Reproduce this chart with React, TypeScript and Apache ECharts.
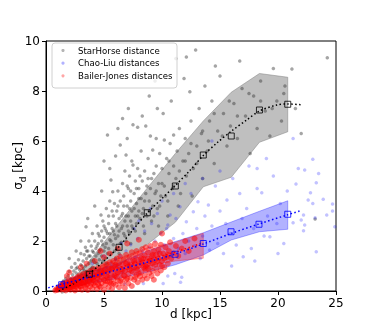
import React, { useEffect, useRef } from "react";
import * as echarts from "echarts";

// ---------- data ----------
const X_TICKS = [0, 5, 10, 15, 20, 25];
const Y_TICKS = [0, 2, 4, 6, 8, 10];
const LEGEND_LABELS = ["StarHorse distance", "Chao-Liu distances", "Bailer-Jones distances"];

// StarHorse scatter [d, sigma_d]
const SH_POINTS: [number, number][] = [
  [0.9,0.05],[1.0,0.12],[1.1,0.2],[1.2,0.08],[1.3,0.3],[1.4,0.15],[1.5,0.4],[1.5,0.22],[1.6,0.1],[1.7,0.5],[1.7,0.3],[1.8,0.18],[1.9,0.6],[1.9,0.38],[2.0,0.25],[2.0,0.78],
  [2.1,0.5],[2.2,0.35],[2.2,0.95],[2.3,0.65],[2.4,0.28],[2.4,0.8],[2.5,0.5],[2.5,1.1],[2.6,0.72],[2.7,0.4],[2.7,0.95],[2.8,1.25],[2.8,0.6],[2.9,0.85],[3.0,0.45],[3.0,1.05],[3.0,1.5],
  [3.1,0.7],[3.2,1.2],[3.2,0.9],[3.3,0.55],[3.3,1.45],[3.4,1.0],[3.4,1.75],[3.45,2.57],[3.5,0.78],[3.5,1.3],[3.6,1.6],[3.6,0.6],[3.7,1.1],[3.7,2.0],[3.8,0.85],[3.8,1.4],[3.9,1.8],[3.9,1.2],[4.0,0.95],[4.0,2.3],
  [4.1,1.55],[4.1,1.25],[4.2,2.0],[4.2,0.9],[4.3,1.7],[4.3,1.4],[4.4,2.6],[4.4,1.1],[4.5,1.9],[4.5,1.5],[4.6,2.2],[4.6,1.25],[4.7,1.65],[4.74,3.04],[4.8,2.4],[4.8,1.4],[4.9,1.85],[4.9,2.8],[5.0,1.6],[5.0,2.15],
  [5.1,2.5],[5.1,1.3],[5.2,3.3],[5.2,1.9],[5.3,6.24],[5.3,2.3],[5.4,1.7],[5.4,2.7],[5.5,3.6],[5.5,2.05],[5.6,4.44],[5.6,1.5],[5.7,2.5],[5.75,3.97],[5.8,3.0],[5.8,1.85],[5.9,2.25],[5.9,3.5],[6.0,5.4],[6.0,2.7],
  [6.1,1.7],[6.1,3.2],[6.2,2.2],[6.2,4.0],[6.3,2.9],[6.3,1.5],[6.4,5.84],[6.4,3.6],[6.5,2.5],[6.5,1.95],[6.6,4.3],[6.6,3.1],[6.7,2.3],[6.7,3.8],[6.8,2.8],[6.8,4.8],[6.9,5.44],[6.9,2.0],[7.0,3.4],[7.0,2.6],
  [7.1,4.1],[7.1,3.0],[7.2,2.3],[7.2,4.6],[7.3,3.6],[7.3,2.8],[7.4,3.2],[7.4,5.2],[7.5,6.65],[7.5,5.04],[7.5,2.5],[7.6,3.9],[7.7,3.0],[7.7,4.4],[7.8,2.7],[7.8,3.5],[7.9,6.55],[7.9,4.9],[8.0,3.2],[8.0,4.1],
  [8.1,2.9],[8.2,3.7],[8.2,5.6],[8.3,4.4],[8.4,3.3],[8.4,2.6],[8.5,4.8],[8.6,6.6],[8.6,3.9],[8.7,3.0],[8.8,4.5],[8.8,5.3],[8.9,3.6],[9.0,4.1],[9.0,6.2],[9.1,2.8],[9.2,5.64],[9.2,3.4],[9.3,4.7],[9.4,3.9],
  [9.5,6.1],[9.5,5.0],[9.6,3.3],[9.7,4.3],[9.8,5.5],[9.9,3.8],[10.0,4.9],[10.1,7.1],[10.2,6.04],[10.2,4.2],[10.4,5.3],[10.5,3.6],[10.6,4.7],[10.7,5.9],[10.8,7.6],[10.9,4.1],[11.0,6.24],[11.0,5.0],[11.2,4.5],[11.3,5.6],[11.5,6.5],[11.6,3.9],[11.8,5.2],[12.0,6.1],
  [12.1,4.6],[12.3,5.5],[12.4,7.97],[12.5,6.8],[12.7,4.9],[12.9,9.64],[13.0,5.8],[13.2,7.3],[13.4,6.3],[13.5,4.5],[13.7,8.2],[13.9,5.6],[14.1,6.8],[14.3,7.6],[14.5,5.1],[14.8,6.4],[15.0,8.6],[15.3,7.1],[15.6,5.8],[15.9,6.6],[16.2,7.5],[16.7,9.2],
  [16.5,6.1],[16.9,8.1],[17.2,7.0],[17.6,5.5],[17.9,7.8],[18.2,6.5],[18.5,8.4],[18.9,7.2],[19.3,6.2],[19.6,8.9],[19.9,7.6],[20.3,6.8],[20.6,8.2],[21.2,8.88],[21.5,7.3],[22.0,6.3],[23.2,2.88],[24.25,9.33],[14.6,9.0],[11.9,8.5],[9.6,7.3],[8.3,7.0],[7.0,6.1],
  [9.7,2.6],[10.5,3.0],[11.4,3.4],[12.6,3.8],[7.3,1.9],[8.5,2.3],[6.0,1.3],[5.2,1.1],[4.5,0.8],[3.5,0.4],
  [2.0,1.3],[2.6,1.6],[3.0,2.0],[3.6,2.9],[4.2,3.4],[4.8,4.0],[5.5,4.9],[6.2,6.5],[7.1,7.3],[8.9,7.8],[10.3,8.6],[11.2,9.3],[5.0,5.2],[6.6,6.9],[9.4,8.4],[12.1,9.36],
  [2.3,0.45],[2.6,0.9],[2.9,0.6],[3.1,1.0],[3.3,0.8],[3.5,1.6],[3.7,1.4],[3.9,0.9],[4.0,1.6],[4.2,1.15],[4.4,1.8],[4.5,2.3],[4.6,1.6],[4.8,2.0],[4.9,1.2],[5.0,2.6],[5.1,1.75],[5.2,2.4],[5.3,1.5],[5.4,3.0],
  [5.5,2.3],[5.6,2.0],[5.7,3.2],[5.8,2.4],[5.9,1.6],[6.0,2.1],[6.1,2.6],[6.2,3.4],[6.3,2.4],[6.4,1.9],[6.5,3.0],[6.6,2.6],[6.7,3.4],[6.8,2.2],[6.9,3.0],[7.0,4.2],[7.1,2.4],[7.2,3.3],[7.3,4.0],[7.4,2.6],
  [7.6,3.3],[7.7,2.4],[7.8,4.1],[7.9,3.0],[8.0,3.7],[8.1,4.6],[8.3,3.1],[8.5,3.6],[8.7,4.2],[8.9,3.2],[9.1,4.5],[9.3,3.0],[9.5,4.0],[9.8,3.4],[10.0,4.3],[10.3,3.8],[10.6,5.2],[11.0,4.2],[11.5,4.8],[12.0,5.2],
  [12.5,5.9],[13.0,5.1],[13.5,6.4],[14.0,6.0],[14.5,7.1],[15.2,6.2],[15.8,7.6],[16.5,7.0],[17.5,7.9],[18.5,7.6],[19.5,7.3],[20.5,7.9]
];

// Chao-Liu scatter
const CL_POINTS: [number, number][] = [
  [1.0,0.2],[1.3,0.3],[1.6,0.25],[1.9,0.35],[2.2,0.45],[2.5,0.3],[2.8,0.55],[3.1,0.5],[3.4,0.65],[3.7,0.45],[4.0,0.75],[4.3,0.6],[4.6,0.85],[4.9,0.7],[5.2,0.95],
  [5.4,0.8],[5.6,1.1],[5.8,0.6],[6.0,1.25],[6.2,0.95],[6.4,1.4],[6.6,0.75],[6.8,0.28],[6.9,1.6],[7.1,1.1],[7.3,1.85],[7.5,0.9],[7.7,1.35],[7.9,2.1],[8.1,1.2],[8.3,1.6],[8.4,0.3],[8.5,2.4],[8.7,1.0],[8.9,1.75],[9.1,2.7],[9.2,1.3],[9.4,2.0],[9.6,3.1],[9.7,1.55],[9.9,2.3],[10.1,0.3],[10.2,1.85],[10.4,2.5],[10.5,0.6],[10.5,2.64],[10.7,3.04],[10.8,1.4],
  [11.0,2.1],[11.1,0.7],[11.2,2.9],[11.4,1.7],[11.55,3.37],[11.6,0.35],[11.7,0.55],[11.8,2.3],[12.0,1.5],[12.1,2.77],[12.3,2.0],[12.5,3.9],[12.7,3.17],[12.8,1.8],[13.0,2.5],[13.1,3.57],[13.3,1.3],[13.5,2.2],[13.7,3.0],[14.0,3.44],[14.1,1.64],[14.3,2.6],[14.6,4.2],[14.8,1.9],[15.0,3.2],[15.3,1.5],[15.5,2.7],[15.6,3.64],
  [15.9,2.3],[16.1,4.5],[16.4,1.84],[16.7,3.9],[16.9,2.9],[17.0,1.37],[17.3,3.3],[17.7,1.7],[17.9,2.5],[18.2,4.1],[18.6,3.93],[18.8,2.2],[19.1,3.0],[19.3,2.17],[19.6,4.6],[19.9,2.7],[20.2,3.5],[20.5,1.9],[20.8,4.0],[21.3,6.1],[21.3,2.73],[21.55,4.28],[21.75,4.9],[22.0,2.84],[22.2,3.04],[22.2,2.41],[22.3,2.64],[22.6,3.64],[22.8,3.93],[23.0,5.27],[23.0,3.5],[23.2,2.93],[23.3,4.33],[23.3,1.57],[23.5,4.7],[23.9,3.67],[24.2,3.04],[24.7,3.48],[24.7,3.2],[24.9,2.57],
  [2.0,0.15],[3.0,0.3],[4.5,0.4],[5.5,0.5],[6.5,1.9],[7.6,2.5],[5.0,1.4],[4.0,1.1],[8.0,2.8],[9.0,3.3],[10.0,3.6],[11.0,3.9],[12.0,4.3],[13.5,4.5],[15.0,4.8],[17.5,5.0],[19.0,5.3],[16.0,1.0],[18.0,1.2],[20.0,1.5],[14.3,6.0],[18.2,4.9],[22.3,4.84]
];

// Bailer-Jones scatter
const BJ_POINTS: [number, number][] = [
  [0.8,0.02],[0.9,0.08],[1.0,0.04],[1.1,0.15],[1.2,0.1],[1.3,0.22],[1.3,0.05],[1.4,0.18],[1.5,0.3],[1.5,0.08],
  [1.6,0.12],[1.7,0.25],[1.7,0.02],[1.8,0.35],[1.8,0.18],[1.9,0.08],[2.0,0.28],[2.0,0.42],[2.1,0.15],[2.1,0.05],[2.2,0.33],[2.3,0.22],[2.3,0.48],[2.4,0.1],[2.4,0.38],[2.5,0.27],[2.5,0.02],
  [2.6,0.45],[2.6,0.17],[2.7,0.55],[2.7,0.32],[2.8,0.08],[2.8,0.25],[2.9,0.4],[2.9,0.62],[3.0,0.18],[3.0,0.5],[3.1,0.3],[3.1,0.05],[3.2,0.68],[3.2,0.42],[3.3,0.22],[3.3,0.56],[3.4,0.12],[3.4,0.35],[3.5,0.48],[3.5,0.72],
  [3.6,0.28],[3.6,0.04],[3.7,0.6],[3.7,0.4],[3.8,0.18],[3.8,0.8],[3.9,0.52],[3.9,0.3],[4.0,0.1],[4.0,0.68],[4.1,0.45],[4.1,0.88],[4.2,0.22],[4.2,0.6],[4.3,0.35],[4.3,0.75],[4.4,0.08],[4.4,0.5],[4.5,0.92],[4.5,0.28],
  [4.6,0.64],[4.6,0.42],[4.7,0.15],[4.7,0.82],[4.8,0.55],[4.8,0.32],[4.9,1.0],[4.9,0.7],[5.0,0.05],[5.0,0.45],[5.1,0.88],[5.1,0.25],[5.2,0.6],[5.2,1.08],[5.3,0.38],[5.3,0.75],[5.4,0.15],[5.4,0.95],[5.5,0.52],[5.5,1.15],
  [5.6,0.3],[5.6,0.7],[5.7,0.88],[5.7,0.1],[5.8,1.2],[5.8,0.48],[5.9,0.62],[5.9,1.02],[6.0,0.25],[6.0,0.82],[6.1,1.3],[6.1,0.55],[6.2,0.4],[6.2,0.95],[6.3,1.12],[6.3,0.15],[6.4,0.7],[6.4,1.38],[6.5,0.5],[6.5,0.88],
  [6.6,1.05],[6.6,0.3],[6.7,1.25],[6.7,0.62],[6.8,0.8],[6.8,0.12],[6.9,1.45],[6.9,0.45],[7.0,0.95],[7.0,1.15],[7.1,0.68],[7.1,0.3],[7.2,1.35],[7.2,0.85],[7.3,0.52],[7.3,1.05],[7.4,1.55],[7.4,0.2],[7.5,0.75],[7.5,1.22],
  [7.6,0.95],[7.6,0.45],[7.7,1.4],[7.7,1.1],[7.8,0.65],[7.8,1.6],[7.9,0.85],[7.9,0.35],[8.0,1.25],[8.0,1.02],[8.1,0.58],[8.1,1.5],[8.2,0.75],[8.2,1.3],[8.3,0.45],[8.3,1.68],[8.4,0.95],[8.4,1.15],[8.5,0.62],[8.5,1.42],
  [8.6,1.75],[8.6,0.85],[8.7,1.05],[8.7,0.5],[8.8,1.3],[8.8,1.55],[8.9,0.72],[8.9,1.2],[9.0,0.95],[9.0,1.8],[9.1,0.6],[9.1,1.4],[9.2,1.1],[9.2,0.8],[9.3,1.6],[9.3,0.45],[9.4,1.25],[9.4,1.9],[9.5,0.9],[9.5,1.45],
  [9.6,0.7],[9.7,1.3],[9.7,1.65],[9.8,1.05],[9.9,0.82],[9.9,1.85],[10.0,1.2],[10.1,1.5],[10.2,0.95],[10.3,1.75],[10.4,1.35],[10.5,1.1],[10.6,1.6],[10.7,1.95],[10.8,1.3],[11.0,1.5],[11.2,1.8],[11.4,1.4],[11.7,1.7],[12.0,2.0],[12.3,1.6],[12.8,2.1],
  [2.0,0.75],[3.0,0.95],[4.2,1.2],[4.7,1.6],[5.5,1.5],[6.2,1.7],[7.0,1.9],[3.5,1.1],[1.8,0.6],[8.0,2.05],[10.0,2.3],[5.0,1.35],
  [1.2,0.15],[1.6,0.2],[2.0,0.12],[2.2,0.25],[2.6,0.3],[2.9,0.2],[3.2,0.3],[3.5,0.25],[3.8,0.45],[4.1,0.3],[4.4,0.65],[4.6,0.2],[4.8,0.75],[5.1,0.4],[5.3,0.55],[5.6,0.9],[5.8,0.3],[6.0,0.6],[6.2,0.75],[6.4,0.4],
  [6.6,0.85],[6.8,0.6],[7.0,0.5],[7.2,1.0],[7.4,0.8],[7.6,1.2],[7.8,0.9],[8.0,0.7],[8.2,1.1],[8.4,1.3],[8.6,1.0],[8.8,0.9],[9.0,1.2],[9.2,1.45],[9.4,1.05],[9.6,1.2],[9.8,1.5],[10.0,1.0],[10.2,1.3],[10.5,1.45],
  [4.0,0.5],[3.0,0.38],[2.4,0.2],[1.9,0.25],[5.0,0.8],[5.5,0.35],[6.0,1.05],[6.9,1.1],[7.7,0.55],[8.5,0.9]
];

// bins, medians, fits and percentile bands
const SH_MEDIAN: [number, number][] = [[3.73,0.67],[6.3,1.75],[8.73,3.13],[11.15,4.2],[13.56,5.44],[15.97,6.2],[18.4,7.24],[20.84,7.47]];
const SH_FIT: [number, number][] = [[1.1,0.0],[2.4,0.3],[3.73,0.7],[5.0,1.2],[6.3,1.78],[7.5,2.45],[8.73,3.12],[10.0,3.7],[11.15,4.22],[12.4,4.82],[13.56,5.42],[14.8,5.95],[16.0,6.4],[17.3,6.84],[18.4,7.2],[19.9,7.44],[20.8,7.48],[22.0,7.45]];
const SH_UPPER: [number, number][] = [[1.35,0.0],[3.73,1.2],[6.2,2.65],[8.7,4.1],[11.15,5.5],[13.56,6.8],[15.97,7.95],[18.4,8.7],[20.84,8.55]];
const SH_LOWER: [number, number][] = [[1.35,-0.1],[3.73,0.35],[6.2,1.0],[8.7,1.85],[11.15,2.75],[13.56,4.17],[15.97,4.55],[18.4,5.95],[20.84,6.37]];

const CL_MEDIAN: [number, number][] = [[1.35,0.25],[11.12,1.47],[13.56,1.9],[15.95,2.37],[18.36,2.67],[20.84,3.07]];
const CL_FIT: [number, number][] = [[0.2,0.13],[1.35,0.27],[3.73,0.55],[6.2,0.85],[8.7,1.15],[11.12,1.48],[13.56,1.88],[15.95,2.3],[18.36,2.68],[20.84,3.05],[22.0,3.22]];
const CL_UPPER: [number, number][] = [[1.35,0.4],[3.73,0.75],[6.2,1.1],[8.7,1.6],[11.15,1.98],[13.56,2.33],[15.97,2.76],[18.4,3.19],[20.84,3.61]];
const CL_LOWER: [number, number][] = [[1.35,0.1],[3.73,0.3],[6.2,0.5],[8.7,0.75],[11.15,1.05],[13.56,1.44],[15.97,2.04],[18.4,2.37],[20.84,2.47]];

const BJ_MEDIAN: [number, number][] = [[1.35,0.18],[3.73,0.52],[6.2,0.92],[8.7,1.25],[11.15,1.55],[13.56,1.93]];
const BJ_UPPER: [number, number][] = [[1.35,0.35],[3.73,0.8],[6.2,1.3],[8.7,1.72],[11.15,1.95],[13.56,2.31]];
const BJ_LOWER: [number, number][] = [[1.35,0.05],[3.73,0.3],[6.2,0.65],[8.7,1.0],[11.15,1.2],[13.56,1.31]];

const FONT = "DejaVu Sans";

function bandSeries(upper: [number, number][], lower: [number, number][], fill: string, z: number) {
  const poly = upper.concat(lower.slice().reverse());
  return {
    type: "custom",
    silent: true,
    z,
    data: [[0, 0]],
    renderItem: (_p: any, api: any) => ({
      type: "polygon",
      shape: { points: poly.map((pt) => api.coord(pt)) },
      style: { fill, stroke: fill, lineWidth: 1 },
    }),
  };
}

function dotted(data: [number, number][], color: string, z: number, smooth: number | boolean) {
  return {
    type: "line",
    data,
    z,
    smooth,
    showSymbol: false,
    symbol: "none",
    silent: true,
    lineStyle: { color, width: 1.5, type: [1.5, 2.4] },
  };
}

function squares(data: [number, number][], color: string, z: number) {
  return {
    type: "scatter",
    data,
    z,
    symbol: "rect",
    symbolSize: 6,
    silent: true,
    itemStyle: { color: "rgba(0,0,0,0)", borderColor: color, borderWidth: 1 },
  };
}

export default function App() {
  const ref = useRef<HTMLDivElement>(null);
  useEffect(() => {
    if (!ref.current) return;
    const chart = echarts.init(ref.current, null, { renderer: "svg" });
    const legendRows = [50.5, 63.2, 75.8];
    const legendColors = ["rgba(90,90,90,0.45)", "rgba(0,0,255,0.3)", "rgba(255,0,0,0.35)"];
    chart.setOption({
      animation: false,
      grid: {
        left: 46, top: 41, width: 290, height: 250, containLabel: false, outerBoundsMode: "none",
        show: true, borderColor: "#000", borderWidth: 1, backgroundColor: "transparent",
      },
      xAxis: {
        type: "value", min: X_TICKS[0], max: X_TICKS[X_TICKS.length - 1], interval: 5,
        name: "d [kpc]", nameLocation: "middle", nameGap: 17, nameMoveOverlap: false,
        nameTextStyle: { fontFamily: FONT, fontSize: 12, color: "#000" },
        axisLine: { show: true, lineStyle: { color: "#000", width: 1 } },
        axisTick: { show: true, length: 4, lineStyle: { color: "#000" } },
        axisLabel: { fontFamily: FONT, fontSize: 12, color: "#000", margin: 6 },
        splitLine: { show: false },
      },
      yAxis: {
        type: "value", min: Y_TICKS[0], max: Y_TICKS[Y_TICKS.length - 1], interval: 2,
        name: "{s|σ}{d|d}{s| [kpc]}", nameLocation: "middle", nameGap: 19, nameRotate: 90, nameMoveOverlap: false,
        nameTextStyle: {
          fontFamily: FONT, fontSize: 12, color: "#000",
          rich: {
            s: { fontFamily: FONT, fontSize: 12, color: "#000", lineHeight: 18 },
            d: { fontFamily: FONT, fontSize: 9, color: "#000", verticalAlign: "bottom", lineHeight: 8 },
          },
        },
        axisLine: { show: true, lineStyle: { color: "#000", width: 1 } },
        axisTick: { show: true, length: 4, lineStyle: { color: "#000" } },
        axisLabel: { fontFamily: FONT, fontSize: 12, color: "#000", margin: 6 },
        splitLine: { show: false },
      },
      series: [
        bandSeries(SH_UPPER, SH_LOWER, "rgba(128,128,128,0.5)", 1),
        bandSeries(CL_UPPER, CL_LOWER, "rgba(0,0,255,0.3)", 1),
        bandSeries(BJ_UPPER, BJ_LOWER, "rgba(255,0,0,0.3)", 1),
        { type: "scatter", data: SH_POINTS, z: 2, symbolSize: 3.5, silent: true, itemStyle: { color: "rgba(50,50,50,0.55)" } },
        { type: "scatter", data: CL_POINTS, z: 2, symbolSize: 3.5, silent: true, itemStyle: { color: "rgba(0,0,255,0.3)" } },
        { type: "scatter", data: BJ_POINTS, z: 2, symbolSize: 6, silent: true, itemStyle: { color: "rgba(255,0,0,0.65)" } },
        dotted(SH_FIT, "#000", 3, 0.3),
        squares(SH_MEDIAN, "#000", 3),
        dotted(BJ_MEDIAN, "#ff0000", 3, false),
        dotted(CL_FIT, "#0000ff", 4, 0.3),
        squares(CL_MEDIAN, "#0000ff", 4),
      ],
      graphic: [
        { type: "rect", z: 100, shape: { x: 52, y: 43, width: 125, height: 45, r: 3 }, style: { fill: "rgba(255,255,255,0.8)", stroke: "#d0d0d0", lineWidth: 1 } },
        ...LEGEND_LABELS.flatMap((label, i) => [
          { type: "circle", z: 101, shape: { cx: 63, cy: legendRows[i], r: 1.6 }, style: { fill: legendColors[i] } },
          { type: "text", z: 101, x: 78, y: legendRows[i], style: { text: label, fontFamily: FONT, fontSize: 8.6, fill: "#000", verticalAlign: "middle", align: "left" } },
        ]),
      ],
    });
    return () => chart.dispose();
  }, []);
  return <div ref={ref} style={{ position: "fixed", left: 0, top: 0, width: 374, height: 329 }} />;
}
